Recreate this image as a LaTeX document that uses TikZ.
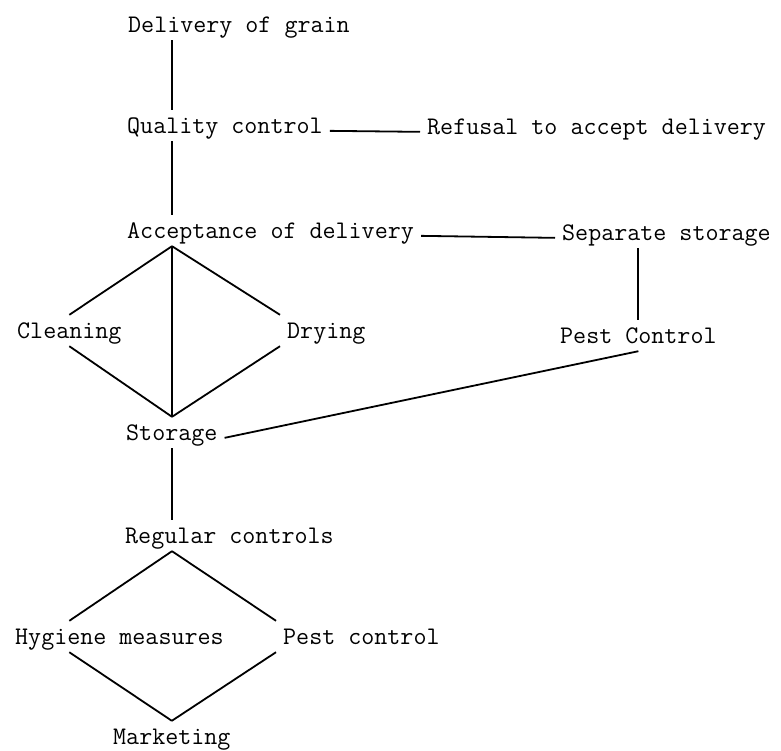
\documentclass[tikz,border=0pt]{standalone}
\usepackage{tikz}
\usetikzlibrary{positioning,calc}

\begin{document}
\begin{tikzpicture}[x=1pt, y=-1pt,
    stage/.style={anchor=base west, font=\ttfamily\fontsize{25.3pt}{30pt}\selectfont,
                  inner xsep=7pt, inner ysep=2pt, text height=21pt, text depth=6pt},
    link/.style={line width=1.8pt}]
  \useasboundingbox (0,0) rectangle (781,750);

  % Stages of the grain handling
  \node[stage] (deliv)  at (121,32)  {Delivery of grain};
  \node[stage] (qual)   at (120,133) {Quality control};
  \node[stage] (refuse) at (420,134) {Refusal to accept delivery};
  \node[stage] (accept) at (120,238) {Acceptance of delivery};
  \node[stage] (sepstor) at (555,240) {Separate storage};
  \node[stage] (clean)  at (10,338)  {Cleaning};
  \node[stage] (dry)    at (280,338) {Drying};
  \node[stage] (pestC)  at (553,343) {Pest Control};
  \node[stage] (stor)   at (119,440) {Storage};
  \node[stage] (regctl) at (118,543) {Regular controls};
  \node[stage] (hyg)    at (8,644)   {Hygiene measures};
  \node[stage] (pestc)  at (276,644) {Pest control};
  \node[stage] (market) at (106,744) {Marketing};

  \coordinate (spine) at (172,0);

  % Main line
  \draw[link] (deliv.south -| spine) -- (qual.north -| spine);
  \draw[link] (qual.south -| spine) -- (accept.north -| spine);
  \draw[link] (qual.mid east) -- (refuse.mid west);
  \draw[link] (accept.mid east) -- (sepstor.mid west);
  \draw[link] (sepstor.south -| pestC.north) -- (pestC.north);

  % Cleaning / drying diamond
  \draw[link] (accept.south -| spine) -- (clean.north);
  \draw[link] (accept.south -| spine) -- (dry.north west);
  \draw[link] (accept.south -| spine) -- (stor.north -| spine);
  \draw[link] (clean.south) -- (stor.north -| spine);
  \draw[link] (dry.south west) -- (stor.north -| spine);
  \draw[link] (stor.mid east) -- (pestC.south);

  % Controls diamond
  \draw[link] (stor.south -| spine) -- (regctl.north -| spine);
  \draw[link] (regctl.south -| spine) -- (hyg.north -| clean.north);
  \draw[link] (regctl.south -| spine) -- (pestc.north west);
  \draw[link] (hyg.south -| clean.south) -- (market.north);
  \draw[link] (pestc.south west) -- (market.north);
\end{tikzpicture}
\end{document}
